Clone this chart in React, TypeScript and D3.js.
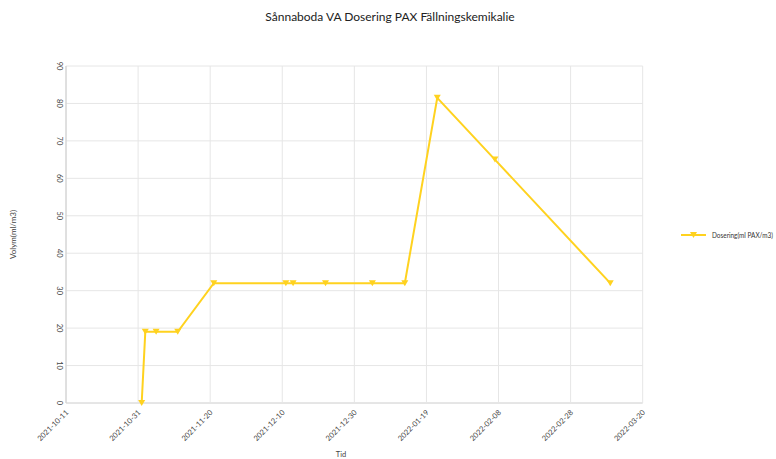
import React from "react";
import * as d3 from "d3";

const title = "Sånnaboda VA Dosering PAX Fällningskemikalie";
const seriesName = "Dosering(ml PAX/m3)";
const yTitle = "Volym(ml/m3)";
const xTitle = "Tid";

const dates = [
  "2021-11-01", "2021-11-02", "2021-11-05", "2021-11-11", "2021-11-21",
  "2021-12-11", "2021-12-13", "2021-12-22", "2022-01-04", "2022-01-13",
  "2022-01-22", "2022-02-07", "2022-03-11",
];
const values = [0, 19, 19, 19, 32, 32, 32, 32, 32, 32, 81.5, 65, 32];

const xTickLabels = [
  "2021-10-11", "2021-10-31", "2021-11-20", "2021-12-10", "2021-12-30",
  "2022-01-19", "2022-02-08", "2022-02-28", "2022-03-20",
];
const yTicks = [0, 10, 20, 30, 40, 50, 60, 70, 80, 90];

const W = 776;
const H = 459;
const left = 66;
const right = 642.7;
const top = 66;
const bottom = 403;
const lineColor = "#FFD21F";
const font = "Lato, 'Open Sans', sans-serif";

const parse = d3.utcParse("%Y-%m-%d");

export default function App() {
  const x = d3
    .scaleUtc()
    .domain([parse(xTickLabels[0])!, parse(xTickLabels[xTickLabels.length - 1])!])
    .range([left, right]);
  const y = d3.scaleLinear().domain([0, 90]).range([bottom, top]);

  const points = dates.map((d, i) => ({ x: x(parse(d)!), y: y(values[i]) }));
  const line = d3
    .line<{ x: number; y: number }>()
    .x((p) => p.x)
    .y((p) => p.y);

  const tri = (cx: number, cy: number) =>
    `M${cx - 3.5},${cy - 3} L${cx + 3.5},${cy - 3} L${cx},${cy + 3} Z`;

  return (
    <svg
      width={W}
      height={H}
      style={{ position: "absolute", left: 0, top: 0, background: "#fff" }}
      fontFamily={font}
    >
      <text x={390} y={21} textAnchor="middle" fontSize={12} fill="#222">
        {title}
      </text>

      {/* horizontal grid + y tick labels */}
      {yTicks.map((t) => (
        <g key={t}>
          <line
            x1={left}
            x2={right}
            y1={y(t)}
            y2={y(t)}
            stroke={t === 0 ? "#ccc" : "#e6e6e6"}
            strokeWidth={1}
          />
          <text
            transform={`translate(${left - 9},${y(t)}) rotate(90)`}
            textAnchor="middle"
            fontSize={7.5}
            fill="#444"
          >
            {t}
          </text>
        </g>
      ))}

      {/* vertical grid + x tick labels */}
      {xTickLabels.map((d) => {
        const xv = x(parse(d)!);
        return (
          <g key={d}>
            <line x1={xv} x2={xv} y1={top} y2={bottom} stroke="#e6e6e6" strokeWidth={1} />
            <text
              transform={`translate(${xv + 3},${bottom + 10}) rotate(-45)`}
              textAnchor="end"
              fontSize={7.5}
              fill="#444"
            >
              {d}
            </text>
          </g>
        );
      })}
      <line x1={left} x2={left} y1={top} y2={bottom} stroke="#ccc" strokeWidth={1} />

      <text
        transform={`translate(16,${(top + bottom) / 2}) rotate(-90)`}
        textAnchor="middle"
        fontSize={8}
        fill="#444"
      >
        {yTitle}
      </text>
      <text x={341} y={457} textAnchor="middle" fontSize={7.5} fill="#444">
        {xTitle}
      </text>

      <path d={line(points)!} fill="none" stroke={lineColor} strokeWidth={2} />
      {points.map((p, i) => (
        <path key={i} d={tri(p.x, p.y)} fill={lineColor} />
      ))}

      {/* legend */}
      <line x1={681} x2={706} y1={235} y2={235} stroke={lineColor} strokeWidth={2} />
      <path d={tri(693.5, 235)} fill={lineColor} />
      <text
        x={712}
        y={237.5}
        fontSize={7}
        fill="#333"
        textLength={61}
        lengthAdjust="spacingAndGlyphs"
      >
        {seriesName}
      </text>
    </svg>
  );
}
